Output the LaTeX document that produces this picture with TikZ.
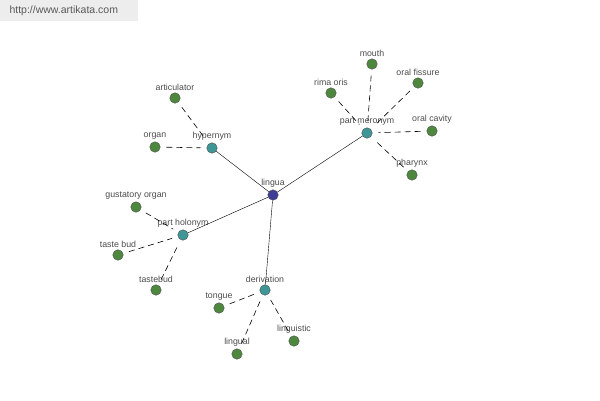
\documentclass[tikz,border=0pt]{standalone}
\usepackage{fontspec}
\setmainfont{Liberation Sans}
\usetikzlibrary{positioning}
\definecolor{leafgreen}{RGB}{78,136,62}
\definecolor{relteal}{RGB}{62,150,150}
\definecolor{headblue}{RGB}{62,62,150}

\begin{document}
\begin{tikzpicture}[x=1pt, y=-1pt, font=\fontsize{8.8}{10}\selectfont,
  dot/.style={circle, draw=black!70, inner sep=0pt, minimum size=10.5pt},
  leaf/.style={dot, fill=leafgreen},
  relnode/.style={dot, fill=relteal},
  lbl/.style={text=black!70, inner sep=1pt, label distance=1pt},
  rel/.style={semithick, dash pattern=on 6pt off 4pt, shorten <=6pt, shorten >=6pt}]
\useasboundingbox (0,0) rectangle (600,400);
\fill[black!7] (0,0) rectangle (138,21);
\node[anchor=west, text=black!65, font=\fontsize{10.5}{12}\selectfont] (site) at (6,11) {http://www.artikata.com};
% centre and relation nodes
\node[dot, fill=headblue, label={[lbl]above:lingua}] (lingua) at (273,195) {};
\node[relnode, label={[lbl]above:hypernym}] (hyper) at (212,148) {};
\node[relnode, label={[lbl]above:part meronym}] (meronym) at (367,133) {};
\node[relnode, label={[lbl]above:part holonym}] (holonym) at (183,235) {};
\node[relnode, label={[lbl]above:derivation}] (deriv) at (265,290) {};
\foreach \r in {hyper,meronym,holonym,deriv}
  \draw (lingua) -- (\r);
% leaves
\foreach \nm/\px/\py/\txt in {artic/175/98/articulator, organ/155/147/organ}
  \node[leaf, label={[lbl]above:\txt}] (\nm) at (\px,\py) {};
\foreach \nm/\px/\py/\txt in {mouth/372/64/mouth, rima/331/93/rima oris,
    fissure/418/83/oral fissure, cavity/432/131/oral cavity, pharynx/412/175/pharynx}
  \node[leaf, label={[lbl]above:\txt}] (\nm) at (\px,\py) {};
\foreach \nm/\px/\py/\txt in {gust/136/207/gustatory organ, bud/118/255/taste bud,
    tastebud/156/290/tastebud}
  \node[leaf, label={[lbl]above:\txt}] (\nm) at (\px,\py) {};
\foreach \nm/\px/\py/\txt in {tongue/219/308/tongue, lingual/237/354/lingual,
    linguistic/294/341/linguistic}
  \node[leaf, label={[lbl]above:\txt}] (\nm) at (\px,\py) {};
\foreach \nm in {artic,organ}
  \draw[rel] (\nm) -- (hyper);
\foreach \nm in {mouth,rima,fissure,cavity,pharynx}
  \draw[rel] (\nm) -- (meronym);
\foreach \nm in {gust,bud,tastebud}
  \draw[rel] (\nm) -- (holonym);
\foreach \nm in {tongue,lingual,linguistic}
  \draw[rel] (\nm) -- (deriv);
\end{tikzpicture}
\end{document}
